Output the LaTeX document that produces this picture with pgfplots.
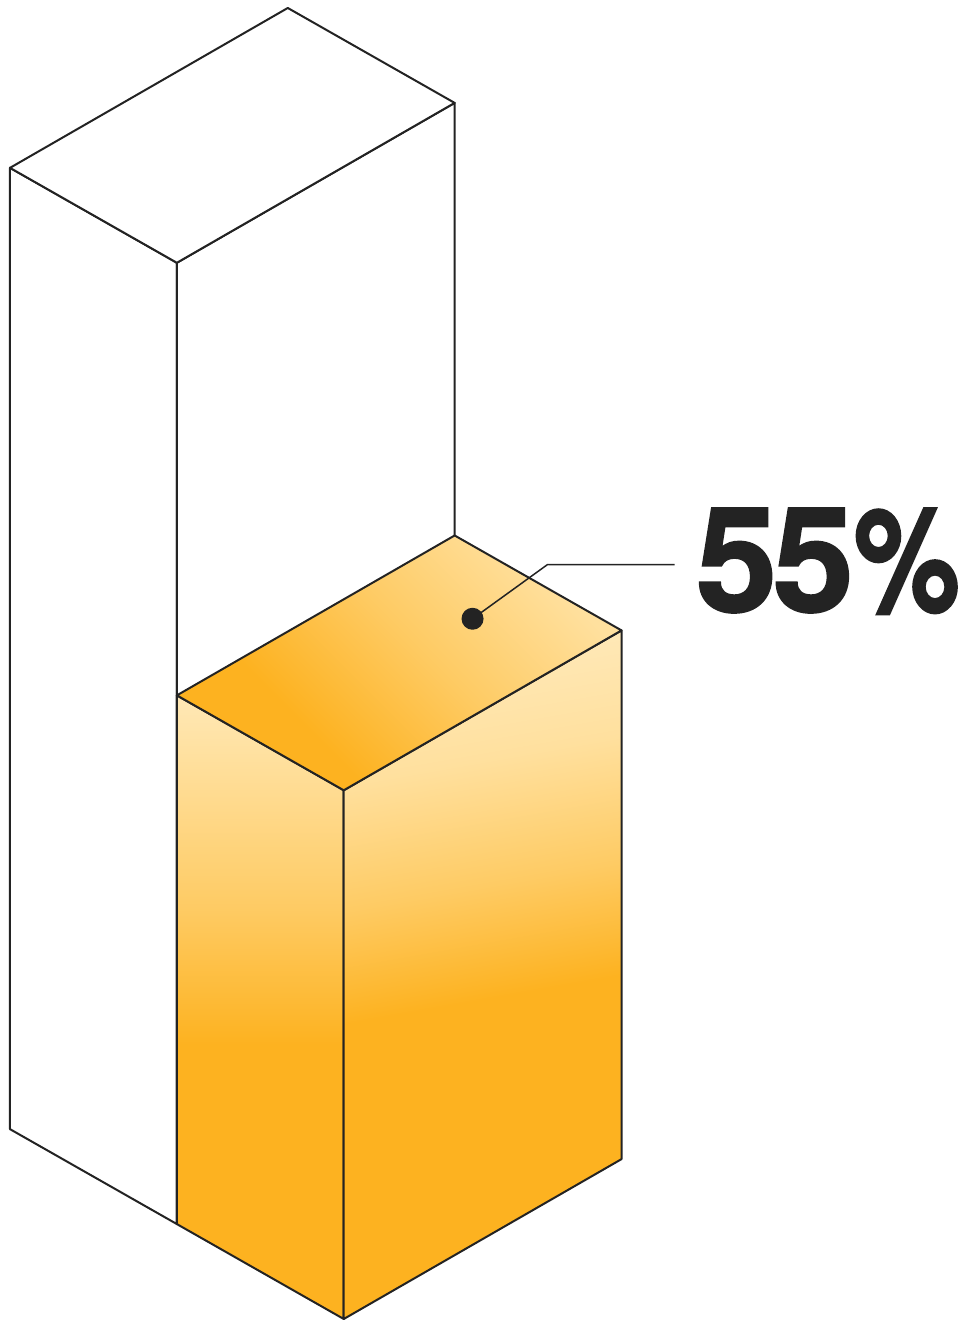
\documentclass[border=0pt]{standalone}
\usepackage{pgfplots}
\pgfplotsset{compat=1.18}
\usepackage{fontspec}
\newfontfamily\labelfont[LetterSpace=-3,BoldFeatures={FakeBold=1.4}]{TeX Gyre Heros}
\definecolor{edge}{RGB}{35,35,35}
\definecolor{deep}{RGB}{253,178,32}
\definecolor{mid}{RGB}{254,203,100}
\definecolor{light}{RGB}{255,224,158}
\definecolor{lighter}{RGB}{255,232,182}
\pgfdeclareverticalshading{faceL}{100bp}{color(0bp)=(deep); color(47bp)=(deep); color(58bp)=(mid); color(70bp)=(light); color(75bp)=(lighter); color(100bp)=(lighter)}
\pgfdeclareverticalshading{faceF}{100bp}{color(0bp)=(deep); color(48bp)=(deep); color(57bp)=(mid); color(67bp)=(light); color(75bp)=(lighter); color(100bp)=(lighter)}
\pgfdeclareverticalshading{faceT}{100bp}{color(0bp)=(deep); color(34bp)=(deep); color(54bp)=(mid); color(74bp)=(light); color(100bp)=(light)}
\begin{document}
\begin{tikzpicture}
\begin{axis}[
  x={(83.5pt,-47.5pt)}, y={(139pt,80pt)}, z={(0pt,4.81pt)},
  xmin=0,xmax=2,ymin=0,ymax=1,zmin=0,zmax=100,
  hide axis, clip=false,
  every axis plot/.append style={mark=none, line width=1pt, draw=edge, line join=round},
]
% tall box (100%)
\addplot3[fill=white] coordinates {(0,0,0) (1,0,0) (1,0,100) (0,0,100)} --cycle;
\addplot3[fill=white] coordinates {(1,0,0) (1,1,0) (1,1,100) (1,0,100)} --cycle;
\addplot3[fill=white] coordinates {(0,0,100) (1,0,100) (1,1,100) (0,1,100)} --cycle;
% short box (55%)
\addplot3[shading=faceL] coordinates {(1,0,0) (2,0,0) (2,0,55) (1,0,55)} --cycle;
\addplot3[shading=faceF, shading angle=10] coordinates {(2,0,0) (2,1,0) (2,1,55) (2,0,55)} --cycle;
\addplot3[shading=faceT, shading angle=-45] coordinates {(1,0,55) (2,0,55) (2,1,55) (1,1,55)} --cycle;
% leader
\addplot3[line width=0.75pt] coordinates {(1.49,0.77,55) (1.432,1.075,55) (1.815,1.302,55)};
\addplot3[only marks, mark=*, mark size=5pt, draw=edge, fill=edge] coordinates {(1.49,0.77,55)};
\node[anchor=base west, inner sep=0, xshift=10.5pt, yshift=-23.5pt, text=edge] at (axis cs:1.815,1.302,55) {\labelfont\bfseries\fontsize{73}{73}\selectfont 55\scalebox{0.82}[1]{\%}};
\path (axis cs:0,0,0) ++(-5pt,565pt) rectangle ++(486.5pt,-660pt);
\end{axis}
\end{tikzpicture}
\end{document}
